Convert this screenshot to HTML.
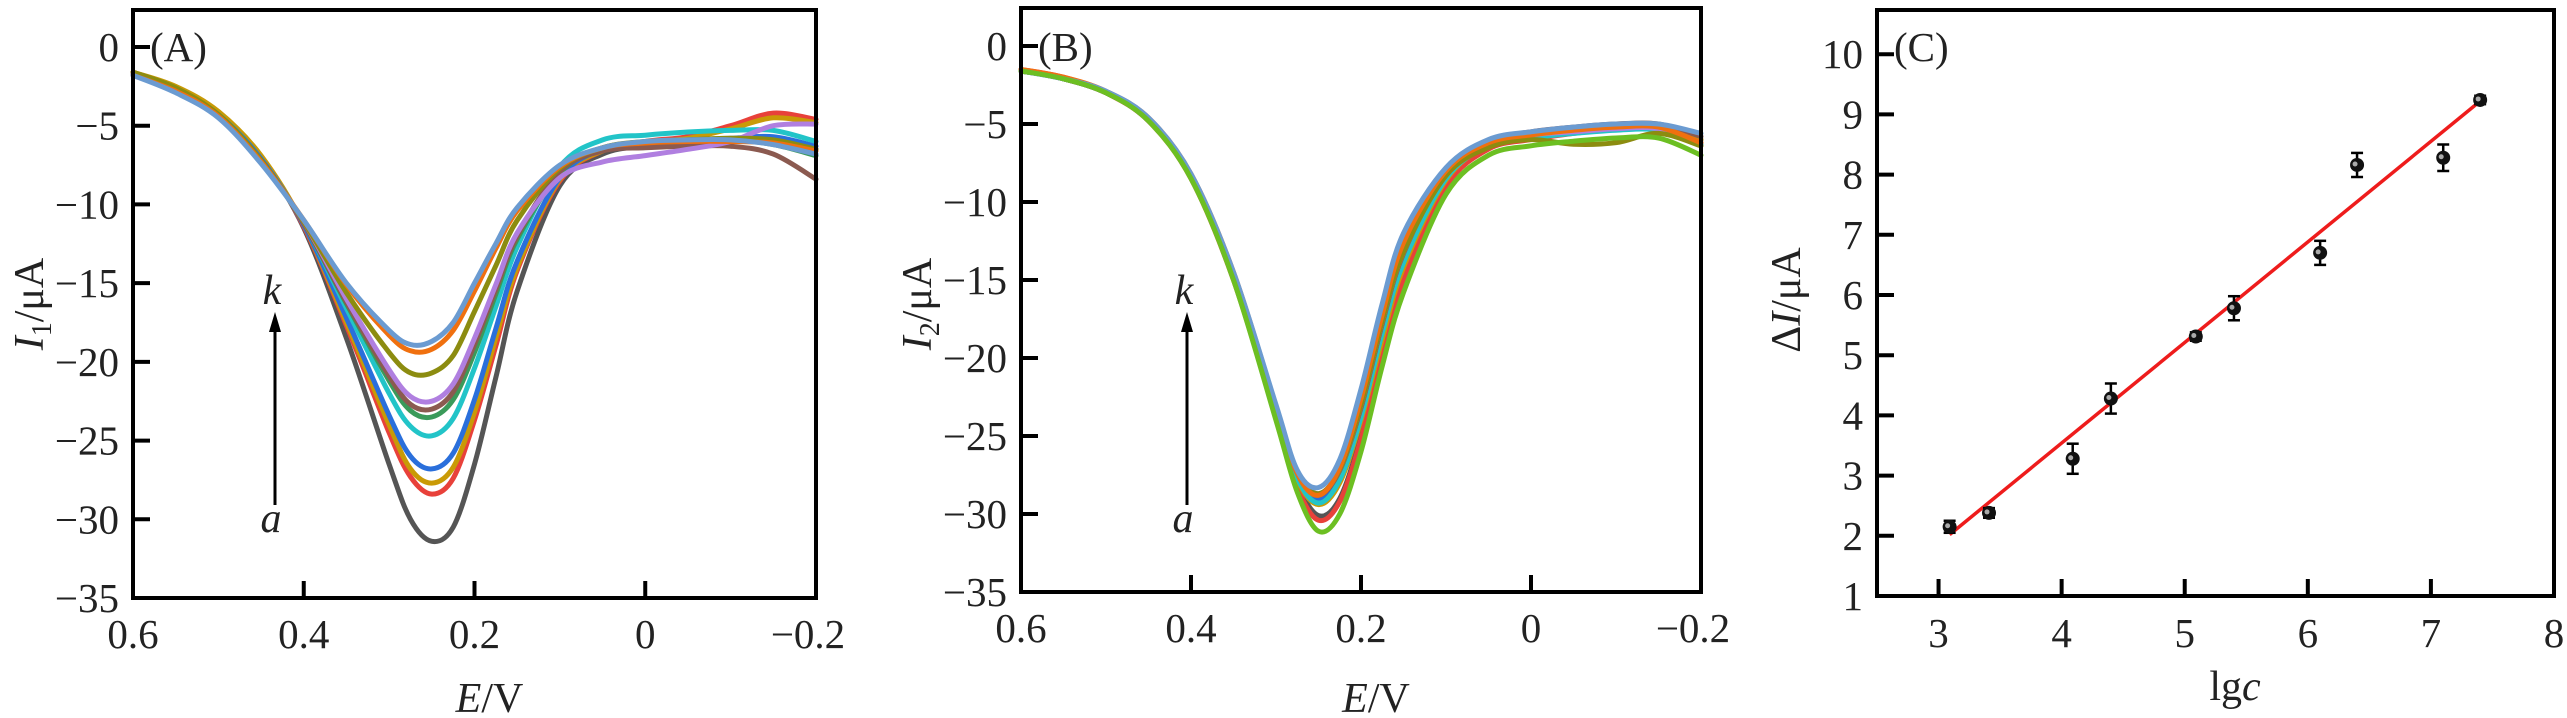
<!DOCTYPE html>
<html><head><meta charset="utf-8">
<style>
html,body{margin:0;padding:0;background:#fff;}
svg{display:block;font-family:"Liberation Serif",serif;}
</style></head>
<body>
<svg id="fig" width="2567" height="718" viewBox="0 0 2567 718" xmlns="http://www.w3.org/2000/svg"></svg>
<script>
// ---------- shared data ----------
const potentials = [0.6,0.55,0.5,0.45,0.4,0.35,0.3,0.275,0.25,0.225,0.2,0.175,0.15,0.1,0.05,0,-0.05,-0.1,-0.15,-0.2];
const curveLabels = ['a','b','c','d','e','f','g','h','i','j','k'];
const colorsA = ['#555555','#e8413a','#c99a06','#2a6fdb','#22c4c8','#3a9a5a','#8b5a50','#b07fe0','#8c8c10','#f0700f','#6b9bd1'];
const colorsB = ['#555555','#e8413a','#c99a06','#2a6fdb','#22c4c8','#6cbf22','#8b5a50','#b07fe0','#8c8c10','#f0700f','#6b9bd1'];
const currentA_a = [-1.6,-2.6,-4.2,-7.0,-11.5,-18.5,-26.5,-30.0,-31.4,-30.5,-26.5,-21.0,-15.5,-8.8,-6.8,-6.3,-6.2,-6.0,-6.0,-6.5];
const currentA_b = [-1.6,-2.6,-4.2,-7.0,-11.4,-17.7,-24.5,-27.3,-28.4,-27.4,-23.7,-19.0,-14.2,-8.5,-6.6,-6.0,-5.7,-5.0,-4.2,-4.6];
const currentA_c = [-1.6,-2.5,-4.1,-6.9,-11.3,-17.5,-24.0,-26.8,-27.7,-26.7,-23.2,-18.5,-14.0,-8.4,-6.6,-6.1,-5.8,-5.2,-4.5,-4.8];
const currentA_d = [-1.7,-2.7,-4.3,-7.1,-11.3,-17.2,-23.4,-26.0,-26.8,-25.8,-22.4,-17.9,-13.6,-8.3,-6.5,-6.1,-5.9,-5.8,-5.7,-6.3];
const currentA_e = [-1.7,-2.7,-4.3,-7.2,-11.2,-16.6,-22.0,-24.1,-24.7,-23.6,-20.4,-16.5,-12.7,-7.6,-5.9,-5.6,-5.4,-5.3,-5.3,-6.0];
const currentA_f = [-1.7,-2.7,-4.3,-7.2,-11.2,-16.3,-21.2,-23.1,-23.5,-22.4,-19.4,-15.7,-12.2,-8.0,-6.4,-6.1,-6.0,-5.9,-6.2,-6.9];
const currentA_g = [-1.7,-2.7,-4.4,-7.2,-11.2,-16.2,-20.9,-22.7,-23.0,-21.9,-18.9,-15.4,-12.0,-7.9,-6.6,-6.4,-6.3,-6.3,-6.8,-8.4];
const currentA_h = [-1.7,-2.7,-4.4,-7.3,-11.1,-16.0,-20.5,-22.2,-22.5,-21.4,-18.5,-15.1,-11.8,-8.3,-7.3,-6.9,-6.5,-6.0,-5.0,-4.9];
const currentA_i = [-1.6,-2.6,-4.3,-7.2,-11.1,-15.6,-19.4,-20.7,-20.7,-19.6,-16.8,-13.9,-11.0,-7.7,-6.4,-6.0,-5.9,-5.8,-5.9,-6.5];
const currentA_j = [-1.8,-2.8,-4.4,-7.3,-11.0,-15.1,-18.3,-19.3,-19.2,-18.0,-15.5,-12.8,-10.4,-7.6,-6.4,-6.1,-6.0,-6.0,-6.1,-6.6];
const currentA_k = [-1.8,-2.9,-4.5,-7.4,-11.0,-15.0,-18.0,-18.9,-18.7,-17.5,-15.0,-12.5,-10.2,-7.5,-6.4,-6.0,-5.9,-5.9,-6.2,-6.8];
const currentB_a = [-1.6,-2.1,-3.0,-4.8,-8.4,-14.8,-23.6,-28.0,-30.1,-29.0,-25.0,-19.5,-14.6,-8.6,-6.4,-5.8,-5.5,-5.2,-5.2,-6.0];
const currentB_b = [-1.5,-2.0,-3.0,-4.8,-8.5,-15.0,-23.8,-28.3,-30.4,-29.2,-25.2,-19.8,-15.0,-9.0,-6.6,-6.0,-5.6,-5.3,-5.2,-6.2];
const currentB_c = [-1.6,-2.1,-3.0,-4.7,-8.4,-14.8,-23.4,-27.8,-29.4,-28.0,-24.0,-18.8,-14.2,-8.6,-6.3,-5.7,-5.4,-5.2,-5.1,-6.0];
const currentB_d = [-1.6,-2.1,-3.0,-4.7,-8.3,-14.7,-23.3,-27.6,-29.0,-27.6,-23.6,-18.3,-13.8,-8.4,-6.3,-5.8,-5.5,-5.3,-5.3,-6.2];
const currentB_e = [-1.6,-2.1,-3.0,-4.7,-8.3,-14.7,-23.4,-27.7,-29.3,-27.8,-23.8,-18.4,-13.9,-8.5,-6.4,-5.9,-5.6,-5.4,-5.4,-6.3];
const currentB_f = [-1.6,-2.1,-3.0,-4.8,-8.5,-15.0,-24.0,-28.6,-31.1,-30.0,-26.0,-20.5,-15.8,-9.5,-7.0,-6.4,-6.1,-5.9,-5.9,-7.0];
const currentB_g = [-1.6,-2.1,-3.0,-4.7,-8.3,-14.6,-23.2,-27.4,-28.8,-27.2,-23.2,-17.8,-13.3,-8.1,-6.1,-5.5,-5.2,-5.0,-5.0,-5.8];
const currentB_h = [-1.6,-2.1,-3.0,-4.7,-8.3,-14.6,-23.1,-27.3,-28.7,-27.1,-23.0,-17.6,-13.2,-8.2,-6.2,-5.7,-5.5,-5.3,-5.3,-6.2];
const currentB_i = [-1.6,-2.1,-3.0,-4.7,-8.3,-14.6,-23.1,-27.3,-28.7,-27.1,-23.0,-17.6,-13.2,-8.3,-6.5,-6.0,-6.3,-6.2,-5.6,-6.4];
const currentB_j = [-1.5,-2.0,-2.9,-4.6,-8.2,-14.5,-23.1,-27.4,-28.8,-27.0,-22.6,-17.2,-12.6,-8.0,-6.2,-5.7,-5.4,-5.2,-5.2,-6.2];
const currentB_k = [-1.6,-2.1,-2.9,-4.6,-8.2,-14.5,-23.0,-27.2,-28.3,-26.5,-22.0,-16.5,-12.0,-7.8,-6.0,-5.5,-5.2,-5.0,-5.0,-5.6];
const drawOrderB = [0,1,2,3,4,6,7,8,9,10,5];
const xTicksE = [0.6,0.4,0.2,0,-0.2];
const xTickLabelsE = ['0.6','0.4','0.2','0','\u22120.2'];
const yTicksI = [0,-5,-10,-15,-20,-25,-30,-35];
const yTickLabelsI = ['0','\u22125','\u221210','\u221215','\u221220','\u221225','\u221230','\u221235'];
// panel C
const lgc = [3.09,3.41,4.09,4.40,5.09,5.40,6.10,6.40,7.10,7.40];
const deltaI = [2.15,2.38,3.28,4.28,5.31,5.78,6.70,8.16,8.28,9.24];
const deltaIErr = [0.1,0.08,0.25,0.25,0.07,0.2,0.2,0.2,0.22,0.07];
const fitX = [3.09,7.40];
const fitY = [2.02,9.22];
const xTicksC = [3,4,5,6,7,8];
const yTicksC = [1,2,3,4,5,6,7,8,9,10];

const NS = 'http://www.w3.org/2000/svg';
const svg = document.getElementById('fig');
function el(tag, attrs, parent, text){
  const e = document.createElementNS(NS, tag);
  for (const k in attrs) e.setAttribute(k, attrs[k]);
  if (text !== undefined) e.textContent = text;
  (parent || svg).appendChild(e);
  return e;
}
function smoothPath(pts){
  let d = 'M' + pts[0][0].toFixed(1) + ',' + pts[0][1].toFixed(1);
  for (let i = 0; i < pts.length - 1; i++){
    const p0 = pts[Math.max(0,i-1)], p1 = pts[i], p2 = pts[i+1], p3 = pts[Math.min(pts.length-1,i+2)];
    const c1x = p1[0] + (p2[0]-p0[0])/6, c1y = p1[1] + (p2[1]-p0[1])/6;
    const c2x = p2[0] - (p3[0]-p1[0])/6, c2y = p2[1] - (p3[1]-p1[1])/6;
    d += ' C' + c1x.toFixed(1) + ',' + c1y.toFixed(1) + ' ' + c2x.toFixed(1) + ',' + c2y.toFixed(1) + ' ' + p2[0].toFixed(1) + ',' + p2[1].toFixed(1);
  }
  return d;
}

function voltPanel(opts){
  const g = el('g', {});
  
  
  const L = opts.left, R = opts.right, T = opts.top, B = opts.bottom;
  const xs = v => L + (0.6 - v) / 0.8 * (R - L);
  const ys = v => opts.zeroY + (-v) * (B - opts.zeroY) / 35;
  const cg = el('g', {fill:'none','stroke-width':5,'stroke-linejoin':'round','stroke-linecap':'round'}, g);
  
  
  opts.order.forEach(i => {
    const pts = potentials.map((e, j) => [xs(e), ys(opts.series[i][j])]);
    const p = el('path', {d: smoothPath(pts), stroke: opts.colors[i]}, cg);
    
    
  });
  const fr = el('rect', {x:L, y:T, width:R-L, height:B-T, fill:'none', stroke:'#000', 'stroke-width':4}, g);
  
  
  yTicksI.forEach((v, i) => {
    const y = ys(v);
    if (i < yTicksI.length - 1) el('line', {x1:L, x2:L+17, y1:y, y2:y, stroke:'#000','stroke-width':4}, g);
    const t = el('text', {x:L-14, y:y+14, 'font-size':41, 'text-anchor':'end', fill:'#222'}, g, yTickLabelsI[i]);
    
    
  });
  xTicksE.forEach((v, i) => {
    const x = xs(v);
    if (i > 0 && i < xTicksE.length - 1) el('line', {x1:x, x2:x, y1:B, y2:B-17, stroke:'#000','stroke-width':4}, g);
    const t = el('text', {x:x + (i===xTicksE.length-1 ? -8 : 0), y:B+50, 'font-size':41, 'text-anchor':'middle', fill:'#222'}, g, xTickLabelsE[i]);
    
    
  });
  const pl = el('text', {x:L+17, y:61, 'font-size':41, fill:'#222'}, g, opts.panel);
  
  
  const xt = el('text', {x:xs(0.2)+15, y:712, 'font-size':42, 'text-anchor':'middle', fill:'#222'}, g);
  
  
  el('tspan', {'font-style':'italic'}, xt, 'E');
  el('tspan', {}, xt, '/V');
  const yt = el('text', {x:0, y:0, 'font-size':42, 'text-anchor':'middle', fill:'#222', transform:'translate(' + (L-90) + ',304) rotate(-90)'}, g);
  
  
  el('tspan', {'font-style':'italic'}, yt, 'I');
  el('tspan', {'font-size':28, dy:8}, yt, opts.sub);
  el('tspan', {dy:-8}, yt, '/\u03bcA');
  const ax = opts.arrowX;
  const ar = el('line', {x1:ax, x2:ax, y1:505, y2:330, stroke:'#000', 'stroke-width':3}, g);
  
  
  el('polygon', {points:(ax-6)+',332 '+(ax+6)+',332 '+ax+',312', fill:'#000'}, g);
  const tk = el('text', {x:ax-3, y:304, 'font-size':42, 'font-style':'italic', 'text-anchor':'middle', fill:'#222'}, g, 'k');
  
  
  const ta = el('text', {x:ax-4, y:532, 'font-size':42, 'font-style':'italic', 'text-anchor':'middle', fill:'#222'}, g, 'a');
  
  
}

voltPanel({name:'panel-a', panel:'(A)', sub:'1', left:133, right:816, top:10, bottom:598, zeroY:47, arrowX:275,
  series:[currentA_a,currentA_b,currentA_c,currentA_d,currentA_e,currentA_f,currentA_g,currentA_h,currentA_i,currentA_j,currentA_k],
  colors:colorsA, order:[0,1,2,3,4,5,6,7,8,9,10]});
voltPanel({name:'panel-b', panel:'(B)', sub:'2', left:1021, right:1701, top:8, bottom:592, zeroY:46, arrowX:1187,
  series:[currentB_a,currentB_b,currentB_c,currentB_d,currentB_e,currentB_f,currentB_g,currentB_h,currentB_i,currentB_j,currentB_k],
  colors:colorsB, order:drawOrderB});

// ---------- panel C ----------
(function(){
  const g = el('g', {});
  
  
  const L = 1877, R = 2554, T = 10, B = 596;
  const xs = v => L + (v - 2.5) * (R - L) / 5.5;
  const ys = v => B - (v - 1) * 60.2;
  const fr = el('rect', {x:L, y:T, width:R-L, height:B-T, fill:'none', stroke:'#000', 'stroke-width':4}, g);
  
  
  yTicksC.forEach(v => {
    const y = ys(v);
    if (v > 1) el('line', {x1:L, x2:L+17, y1:y, y2:y, stroke:'#000','stroke-width':4}, g);
    const t = el('text', {x:L-14, y:y+14, 'font-size':41, 'text-anchor':'end', fill:'#222'}, g, String(v));
    
    
  });
  xTicksC.forEach(v => {
    const x = xs(v);
    if (v < 8) el('line', {x1:x, x2:x, y1:B, y2:B-17, stroke:'#000','stroke-width':4}, g);
    const t = el('text', {x:x, y:647, 'font-size':41, 'text-anchor':'middle', fill:'#222'}, g, String(v));
    
    
  });
  const fit = el('line', {x1:xs(fitX[0]), y1:ys(fitY[0]), x2:xs(fitX[1]), y2:ys(fitY[1]), stroke:'#ee1c1c', 'stroke-width':3.5}, g);
  
  
  lgc.forEach((xv, i) => {
    const x = xs(xv), y = ys(deltaI[i]), e = deltaIErr[i] * 60.2;
    const pg = el('g', {stroke:'#000', 'stroke-width':2.5}, g);
    
    
    el('line', {x1:x, x2:x, y1:y-e, y2:y+e}, pg);
    el('line', {x1:x-6, x2:x+6, y1:y-e, y2:y-e}, pg);
    el('line', {x1:x-6, x2:x+6, y1:y+e, y2:y+e}, pg);
    el('circle', {cx:x, cy:y, r:7, fill:'#111', stroke:'none'}, pg);
    el('circle', {cx:x-2, cy:y-1, r:2.5, fill:'#aaa', stroke:'none'}, pg);
  });
  const pl = el('text', {x:L+17, y:61, 'font-size':41, fill:'#222'}, g, '(C)');
  
  
  const xt = el('text', {x:2235, y:700, 'font-size':42, 'text-anchor':'middle', fill:'#222'}, g);
  
  
  el('tspan', {}, xt, 'lg');
  el('tspan', {'font-style':'italic'}, xt, 'c');
  const yt = el('text', {x:0, y:0, 'font-size':42, 'text-anchor':'middle', fill:'#222', transform:'translate(1800,300) rotate(-90)'}, g);
  
  
  el('tspan', {}, yt, '\u0394');
  el('tspan', {'font-style':'italic'}, yt, 'I');
  el('tspan', {}, yt, '/\u03bcA');
})();
</script>
</body></html>
